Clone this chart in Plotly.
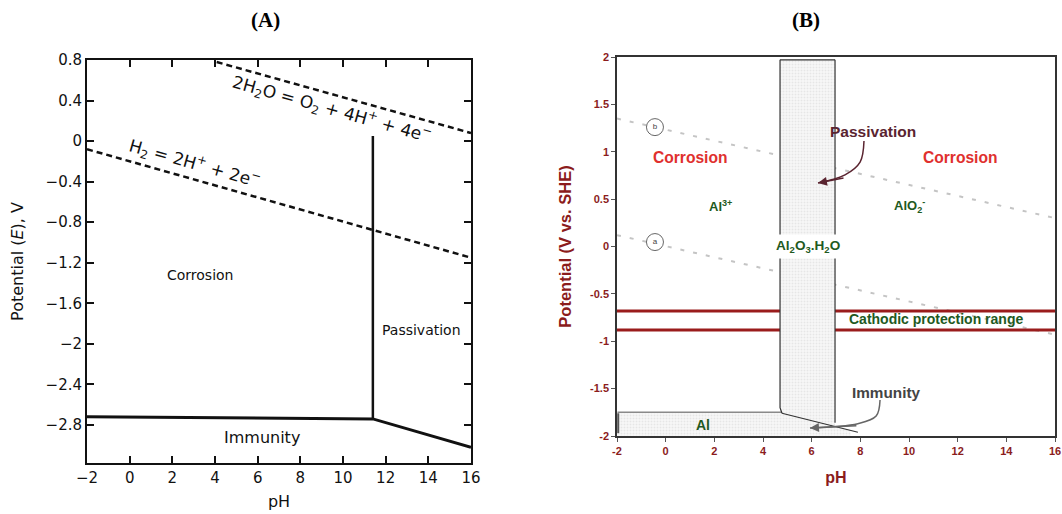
import plotly.graph_objects as go

# ---------------- Panel A data ----------------
ph_ticks_a = [-2, 0, 2, 4, 6, 8, 10, 12, 14, 16]
e_ticks_a = [0.8, 0.4, 0, -0.4, -0.8, -1.2, -1.6, -2, -2.4, -2.8]
e_ticklabels_a = ["0.8", "0.4", "0", "−0.4", "−0.8", "−1.2", "−1.6", "−2", "−2.4", "−2.8"]

o2_ph = [4.08, 16]
o2_e = [0.78, 0.08]
h2_ph = [-2, 16]
h2_e = [-0.08, -1.15]
passiv_ph = [11.4, 11.4]
passiv_e = [0.05, -2.74]
immun_ph = [-2, 11.4, 16]
immun_e = [-2.72, -2.74, -3.02]

# ---------------- Panel B data ----------------
ph_ticks_b = [-2, 0, 2, 4, 6, 8, 10, 12, 14, 16]
v_ticks_b = [2, 1.5, 1, 0.5, 0, -0.5, -1, -1.5, -2]
v_ticklabels_b = ["2", "1.5", "1", "0.5", "0", "-0.5", "-1", "-1.5", "-2"]

line_b_ph = [-2, 16]
line_b_v = [1.35, 0.30]
line_a_ph = [-2, 16]
line_a_v = [0.12, -0.93]
cathodic_upper = [-0.68, -0.68]
cathodic_lower = [-0.88, -0.88]
cathodic_ph = [-2, 16]

oxide_ph = [4.7, 6.96, 6.96, 4.78, 4.7, 4.7]
oxide_v = [1.97, 1.97, -1.90, -1.76, -1.76, 1.97]
al_ph = [-2, -2, 4.78, 7.6, 7.6, -2]
al_v = [-2, -1.75, -1.75, -1.94, -2, -2]
al_top_ph = [-1.98, 4.78]
al_top_v = [-1.75, -1.75]
al_left_ph = [-1.95, -1.95]
al_left_v = [-1.76, -1.97]
slope_ph = [4.78, 7.9]
slope_v = [-1.76, -1.96]
oxide_left_ph = [4.7, 4.7, 4.78]
oxide_left_v = [1.97, -1.70, -1.76]
oxide_top_ph = [4.7, 6.96]
oxide_top_v = [1.97, 1.97]
oxide_right_ph = [6.96, 6.96]
oxide_right_v = [1.97, -1.86]

pass_arrow_ph = [8.15, 7.99, 7.37, 6.26]
pass_arrow_v = [1.113, 0.89, 0.755, 0.67]
imm_arrow_ph = [8.81, 8.65, 7.9, 5.93]
imm_arrow_v = [-1.62, -1.79, -1.87, -1.915]

circle_ph = [-0.44, -0.44]
circle_v = [1.26, 0.047]
circle_txt = ["b", "a"]

FONT = "Liberation Sans, Arial, Helvetica, sans-serif"
FONT_A = "DejaVu Sans, Verdana, sans-serif"
DARKRED = "#8b1c1c"
GREEN = "#1f5a22"

fig = go.Figure()

# Panel A traces
fig.add_trace(go.Scatter(x=o2_ph, y=o2_e, mode="lines", xaxis="x", yaxis="y",
                         line=dict(color="#111", width=2.5, dash="6px,4px"), showlegend=False, hoverinfo="skip"))
fig.add_trace(go.Scatter(x=h2_ph, y=h2_e, mode="lines", xaxis="x", yaxis="y",
                         line=dict(color="#111", width=2.5, dash="6px,4px"), showlegend=False, hoverinfo="skip"))
fig.add_trace(go.Scatter(x=passiv_ph, y=passiv_e, mode="lines", xaxis="x", yaxis="y",
                         line=dict(color="#111", width=2.5), showlegend=False, hoverinfo="skip"))
fig.add_trace(go.Scatter(x=immun_ph, y=immun_e, mode="lines", xaxis="x", yaxis="y",
                         line=dict(color="#111", width=3), showlegend=False, hoverinfo="skip"))

# Panel B traces
for xs, ys in [(line_b_ph, line_b_v), (line_a_ph, line_a_v)]:
    fig.add_trace(go.Scatter(x=xs, y=ys, mode="lines", xaxis="x2", yaxis="y2",
                             line=dict(color="#c4c4c4", width=2, dash="4px,9px"), showlegend=False, hoverinfo="skip"))
for ys in [cathodic_upper, cathodic_lower]:
    fig.add_trace(go.Scatter(x=cathodic_ph, y=ys, mode="lines", xaxis="x2", yaxis="y2",
                             line=dict(color="#9a1c1c", width=3), showlegend=False, hoverinfo="skip"))
for xs, ys in [(al_ph, al_v), (oxide_ph, oxide_v)]:
    fig.add_trace(go.Scatter(x=xs, y=ys, mode="lines", fill="toself", xaxis="x2", yaxis="y2",
                             fillcolor="#f6f6f6",
                             fillpattern=dict(shape=".", bgcolor="#f7f7f7", fgcolor="#d6d6d6", size=3, solidity=0.35),
                             line=dict(width=0), showlegend=False, hoverinfo="skip"))
fig.add_trace(go.Scatter(x=al_top_ph, y=al_top_v, mode="lines", xaxis="x2", yaxis="y2",
                         line=dict(color="#8a8a8a", width=1.5), showlegend=False, hoverinfo="skip"))
fig.add_trace(go.Scatter(x=al_left_ph, y=al_left_v, mode="lines", xaxis="x2", yaxis="y2",
                         line=dict(color="#555", width=2), showlegend=False, hoverinfo="skip"))
for xs, ys in [(oxide_left_ph, oxide_left_v), (oxide_top_ph, oxide_top_v), (oxide_right_ph, oxide_right_v),
               (slope_ph, slope_v)]:
    fig.add_trace(go.Scatter(x=xs, y=ys, mode="lines", xaxis="x2", yaxis="y2",
                             line=dict(color="#333", width=1.2), showlegend=False, hoverinfo="skip"))
fig.add_trace(go.Scatter(x=pass_arrow_ph, y=pass_arrow_v, mode="lines", xaxis="x2", yaxis="y2",
                         line=dict(color="#5a2430", width=1.5, shape="spline"), showlegend=False, hoverinfo="skip"))
fig.add_trace(go.Scatter(x=imm_arrow_ph, y=imm_arrow_v, mode="lines", xaxis="x2", yaxis="y2",
                         line=dict(color="#666", width=1.5, shape="spline"), showlegend=False, hoverinfo="skip"))
fig.add_trace(go.Scatter(x=circle_ph, y=circle_v, mode="markers+text", xaxis="x2", yaxis="y2",
                         text=circle_txt, textposition="middle center",
                         textfont=dict(family=FONT, size=8, color="#444"),
                         marker=dict(size=17, color="white", line=dict(color="#666", width=1)),
                         showlegend=False, hoverinfo="skip"))

W, H = 1062, 514

annotations = [
    dict(text="<b>(A)</b>", x=265 / W, y=1 - 20 / H, xref="paper", yref="paper", showarrow=False,
         xanchor="center", yanchor="middle",
         font=dict(family="Liberation Serif, Times New Roman, serif", size=21, color="black")),
    dict(text="<b>(B)</b>", x=806 / W, y=1 - 20 / H, xref="paper", yref="paper", showarrow=False,
         xanchor="center", yanchor="middle",
         font=dict(family="Liberation Serif, Times New Roman, serif", size=21, color="black")),
    # panel A
    dict(text="2H<sub>2</sub>O = O<sub>2</sub> + 4H<sup>+</sup> + 4e<sup>−</sup>", x=9.49, y=0.31, xref="x", yref="y",
         showarrow=False, textangle=15.7, font=dict(family=FONT_A, size=17, color="#111")),
    dict(text="H<sub>2</sub> = 2H<sup>+</sup> + 2e<sup>−</sup>", x=3.02, y=-0.22, xref="x", yref="y",
         showarrow=False, textangle=15.8, font=dict(family=FONT_A, size=17, color="#111")),
    dict(text="Corrosion", x=3.3, y=-1.32, xref="x", yref="y", showarrow=False,
         font=dict(family=FONT_A, size=14, color="#111")),
    dict(text="Passivation", x=13.7, y=-1.86, xref="x", yref="y", showarrow=False,
         font=dict(family=FONT_A, size=14, color="#111")),
    dict(text="Immunity", x=6.2, y=-2.92, xref="x", yref="y", showarrow=False,
         font=dict(family=FONT_A, size=16, color="#111")),
    # panel B
    dict(text="<b>Corrosion</b>", x=1.04, y=0.94, xref="x2", yref="y2", showarrow=False,
         font=dict(family=FONT, size=15.6, color="#e0302e")),
    dict(text="<b>Corrosion</b>", x=12.1, y=0.94, xref="x2", yref="y2", showarrow=False,
         font=dict(family=FONT, size=15.6, color="#e0302e")),
    dict(text="<b>Passivation</b>", x=8.5, y=1.21, xref="x2", yref="y2", showarrow=False,
         font=dict(family=FONT, size=15.5, color="#5a2430")),
    dict(text="<b>Al<sup>3+</sup></b>", x=2.27, y=0.43, xref="x2", yref="y2", showarrow=False,
         font=dict(family=FONT, size=13, color=GREEN)),
    dict(text="<b>AlO<sub>2</sub><sup>-</sup></b>", x=10.0, y=0.43, xref="x2", yref="y2", showarrow=False,
         font=dict(family=FONT, size=13, color=GREEN)),
    dict(text="<b>Al<sub>2</sub>O<sub>3</sub>.H<sub>2</sub>O</b>", x=5.85, y=0.0, xref="x2", yref="y2",
         showarrow=False, bgcolor="white", borderpad=3,
         font=dict(family=FONT, size=13.6, color=GREEN)),
    dict(text="<b>Cathodic protection range</b>", x=11.1, y=-0.77, xref="x2", yref="y2", showarrow=False,
         font=dict(family=FONT, size=14, color=GREEN)),
    dict(text="<b>Immunity</b>", x=9.05, y=-1.54, xref="x2", yref="y2", showarrow=False,
         font=dict(family=FONT, size=15.3, color="#444")),
    dict(text="<b>Al</b>", x=1.53, y=-1.88, xref="x2", yref="y2", showarrow=False,
         font=dict(family=FONT, size=14, color=GREEN)),
    # arrow heads
    dict(text="", x=pass_arrow_ph[-1], y=pass_arrow_v[-1], ax=pass_arrow_ph[-2], ay=pass_arrow_v[-2] - 0.03,
         xref="x2", yref="y2", axref="x2", ayref="y2", showarrow=True, arrowhead=2, arrowsize=1.2,
         arrowwidth=1.5, arrowcolor="#5a2430", standoff=0),
    dict(text="", x=imm_arrow_ph[-1], y=imm_arrow_v[-1], ax=imm_arrow_ph[-2], ay=imm_arrow_v[-2] - 0.02,
         xref="x2", yref="y2", axref="x2", ayref="y2", showarrow=True, arrowhead=2, arrowsize=1.2,
         arrowwidth=1.5, arrowcolor="#666", standoff=0),
]

fig.update_layout(
    width=W, height=H,
    margin=dict(l=0, r=0, t=0, b=0, autoexpand=False),
    paper_bgcolor="white", plot_bgcolor="white",
    showlegend=False,
    annotations=annotations,
    xaxis=dict(domain=[87 / W, 471 / W], range=[-2, 16], tickvals=ph_ticks_a, automargin=False,
               ticktext=["−2"] + [str(v) for v in ph_ticks_a[1:]],
               showline=True, linecolor="#111", linewidth=2, mirror="ticks",
               ticks="inside", ticklen=7, tickwidth=1.5, tickcolor="#111",
               showgrid=False, zeroline=False,
               tickfont=dict(family=FONT_A, size=15, color="#111"),
               title=dict(text="pH", font=dict(family=FONT_A, size=16, color="#111"), standoff=10),
               anchor="y"),
    yaxis=dict(domain=[1 - 463 / H, 1 - 60 / H], range=[-3.175, 0.8], tickvals=e_ticks_a, automargin=False,
               ticktext=e_ticklabels_a,
               showline=True, linecolor="#111", linewidth=2, mirror="ticks",
               ticks="inside", ticklen=7, tickwidth=1.5, tickcolor="#111",
               showgrid=False, zeroline=False,
               tickfont=dict(family=FONT_A, size=15, color="#111"),
               title=dict(text="Potential (<i>E</i>), V", font=dict(family=FONT_A, size=16, color="#111"), standoff=18),
               anchor="x"),
    xaxis2=dict(domain=[617 / W, 1055 / W], range=[-2, 16], tickvals=ph_ticks_b, automargin=False,
                ticktext=[str(v) for v in ph_ticks_b],
                showline=True, linecolor="#333", linewidth=1.5, mirror=True,
                ticks="outside", ticklen=4, tickwidth=1, tickcolor="#555",
                showgrid=False, zeroline=False,
                tickfont=dict(family=FONT, size=11, color=DARKRED, weight="bold"),
                title=dict(text="<b>pH</b>", font=dict(family=FONT, size=16, color=DARKRED), standoff=16),
                anchor="y2"),
    yaxis2=dict(domain=[1 - 436 / H, 1 - 57 / H], range=[-2, 2], tickvals=v_ticks_b, automargin=False,
                ticktext=v_ticklabels_b,
                showline=True, linecolor="#333", linewidth=1.5, mirror=True,
                ticks="outside", ticklen=4, tickwidth=1, tickcolor="#555",
                showgrid=False, zeroline=False,
                tickfont=dict(family=FONT, size=11, color=DARKRED, weight="bold"),
                title=dict(text="<b>Potential (V vs. SHE)</b>", font=dict(family=FONT, size=16.5, color=DARKRED), standoff=14),
                anchor="x2"),
)

fig.write_html("out.html")
